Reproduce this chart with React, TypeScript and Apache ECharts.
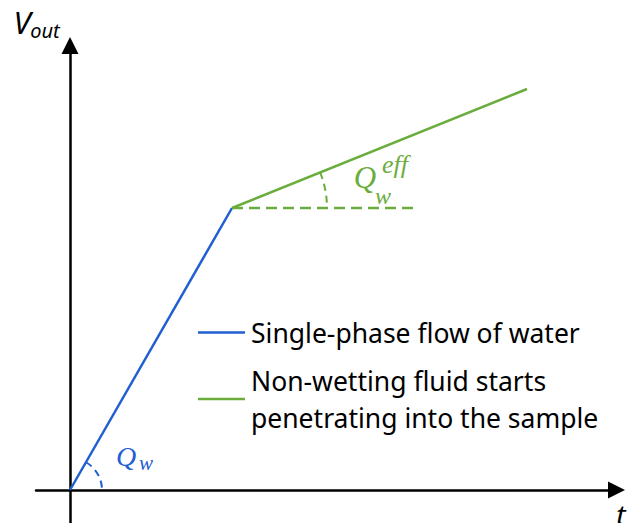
import React, { useEffect, useRef } from "react";
import * as echarts from "echarts";

// Conceptual data (arbitrary units)
const singlePhase: [number, number][] = [
  [0, 0],
  [16.2, 28.2],
];
const nonWetting: [number, number][] = [
  [16.2, 28.2],
  [45.7, 40.1],
];
const reference: [number, number][] = [
  [16.2, 28.2],
  [34.4, 28.2],
];
// angle markers: [vertexX, vertexY, pointX, pointY]
const angleMarks: number[][] = [
  [0, 0, 16.2, 28.2],
  [16.2, 28.2, 45.7, 40.1],
];
const legendNames = ["Single-phase flow of water", "Non-wetting fluid starts"];
const legendLabels: Record<string, string> = {
  "Single-phase flow of water": "Single-phase flow of water",
  "Non-wetting fluid starts": "Non-wetting fluid starts\npenetrating into the sample",
};

const BLUE = "#1f5fd2";
const GREEN = "#6aad3d";
const ARC_R = [32, 95];
const ARC_COLORS = [BLUE, GREEN];

export default function App() {
  const ref = useRef<HTMLDivElement>(null);
  useEffect(() => {
    if (!ref.current) return;
    const chart = echarts.init(ref.current, null, { renderer: "svg" });
    const axisLine = {
      onZero: true,
      symbol: ["none", "triangle"],
      symbolSize: [17, 17],
      lineStyle: { color: "#000", width: 2.5 },
    };
    chart.setOption({
      animation: false,
      grid: { left: 36, right: 13.5, top: 45.5, bottom: 0, containLabel: false },
      xAxis: {
        type: "value",
        min: -3.4,
        max: 54.65,
        axisLine,
        axisTick: { show: false },
        axisLabel: { show: false },
        splitLine: { show: false },
      },
      yAxis: {
        type: "value",
        min: -3.3,
        max: 44.45,
        axisLine,
        axisTick: { show: false },
        axisLabel: { show: false },
        splitLine: { show: false },
      },
      legend: {
        data: legendNames,
        orient: "vertical",
        left: 193,
        top: 309,
        icon: "rect",
        itemWidth: 47,
        itemHeight: 2.5,
        itemGap: 11,
        formatter: (n: string) => legendLabels[n] || n,
        textStyle: {
          fontFamily: "Noto Sans",
          fontSize: 26.5,
          lineHeight: 37,
          color: "#000",
          padding: [0, 0, 0, 1],
        },
      },
      series: [
        {
          name: legendNames[0],
          type: "line",
          data: singlePhase,
          symbol: "none",
          lineStyle: { color: BLUE, width: 2.5 },
          itemStyle: { color: BLUE },
        },
        {
          name: legendNames[1],
          type: "line",
          data: nonWetting,
          symbol: "none",
          lineStyle: { color: GREEN, width: 2.5 },
          itemStyle: { color: GREEN },
        },
        {
          name: "reference",
          type: "line",
          data: reference,
          symbol: "none",
          lineStyle: { color: GREEN, width: 2.5, type: [11, 6] },
        },
        {
          name: "angles",
          type: "custom",
          data: angleMarks,
          renderItem: (params: any, api: any) => {
            const c = api.coord([api.value(0), api.value(1)]);
            const p = api.coord([api.value(2), api.value(3)]);
            const ang = Math.atan2(p[1] - c[1], p[0] - c[0]);
            const i = params.dataIndex;
            return {
              type: "arc",
              shape: { cx: c[0], cy: c[1], r: ARC_R[i], startAngle: ang, endAngle: 0, clockwise: true },
              style: { stroke: ARC_COLORS[i], lineWidth: 2, lineDash: [7, 5], fill: null },
            };
          },
        },
      ],
      graphic: [
        { type: "text", style: { x: 22, y: 22, text: "V", font: "italic 31px 'Noto Sans'", fill: "#000", align: "center", verticalAlign: "middle" } },
        { type: "text", style: { x: 45, y: 30, text: "out", font: "italic 20px 'Noto Sans'", fill: "#000", align: "center", verticalAlign: "middle" } },
        { type: "text", style: { x: 621, y: 514, text: "t", font: "italic 28px 'Noto Sans'", fill: "#000", align: "center", verticalAlign: "middle" } },
        { type: "text", style: { x: 126, y: 456, text: "Q", font: "italic 28px 'Liberation Serif'", fill: BLUE, align: "center", verticalAlign: "middle" } },
        { type: "text", style: { x: 146, y: 463, text: "w", font: "italic 21px 'Liberation Serif'", fill: BLUE, align: "center", verticalAlign: "middle" } },
        { type: "text", style: { x: 365, y: 177, text: "Q", font: "italic 31px 'Liberation Serif'", fill: GREEN, align: "center", verticalAlign: "middle" } },
        { type: "text", style: { x: 395, y: 164, text: "eff", font: "italic 26px 'Liberation Serif'", fill: GREEN, align: "center", verticalAlign: "middle" } },
        { type: "text", style: { x: 383, y: 196, text: "w", font: "italic 24px 'Liberation Serif'", fill: GREEN, align: "center", verticalAlign: "middle" } },
      ],
    });
    return () => chart.dispose();
  }, []);
  return (
    <div
      ref={ref}
      style={{ position: "absolute", left: 0, top: 0, width: 630, height: 523, background: "#fff" }}
    />
  );
}
